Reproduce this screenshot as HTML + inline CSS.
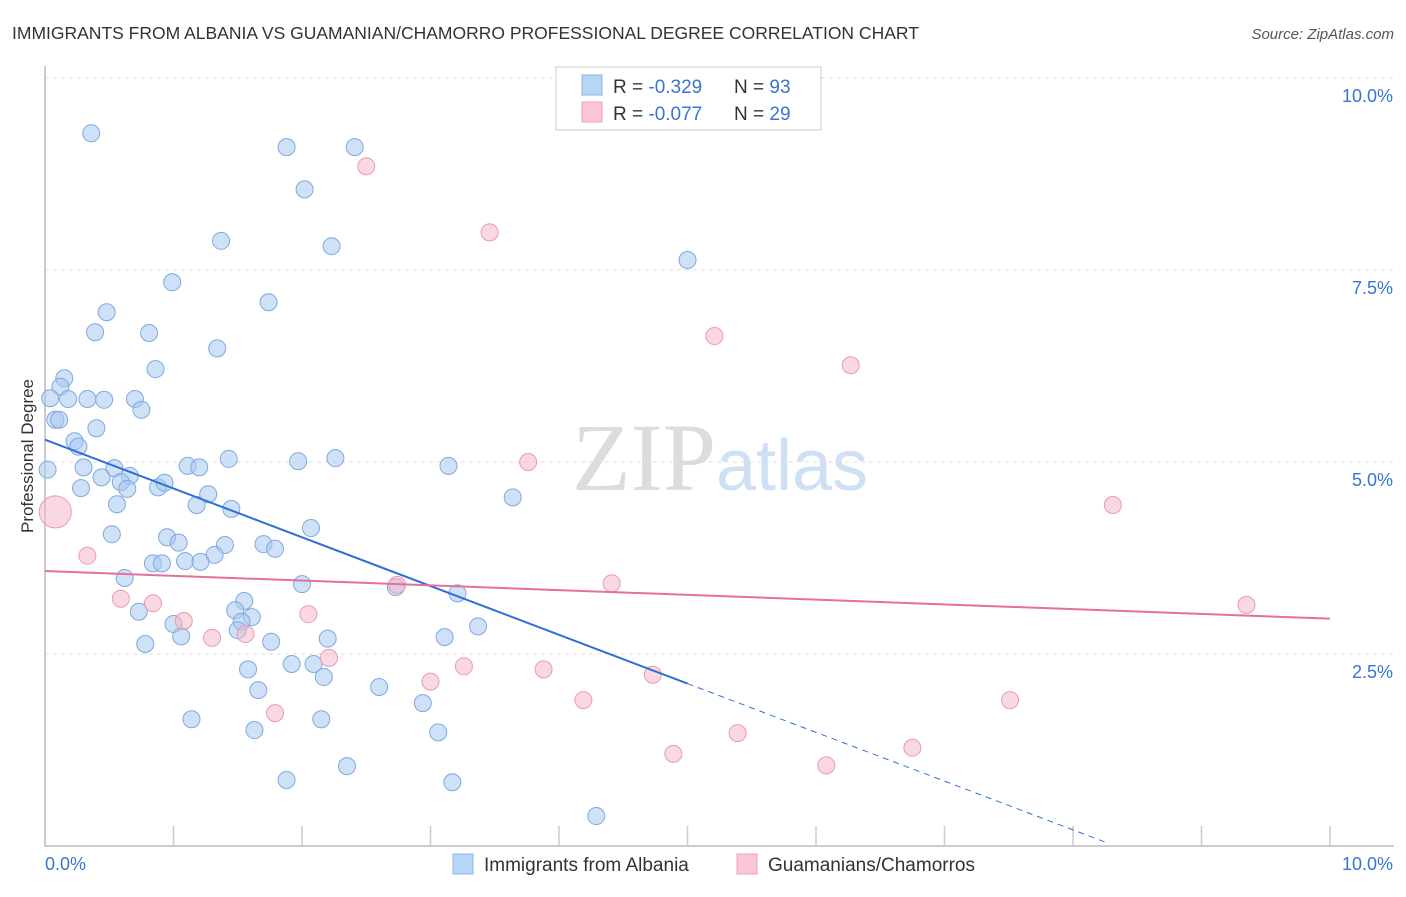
<!DOCTYPE html>
<html><head><meta charset="utf-8"><style>
body{margin:0;background:#fff;font-family:"Liberation Sans",sans-serif}
svg text{font-family:"Liberation Sans",sans-serif}
</style></head><body>
<svg id="chart" width="1406" height="892" xmlns="http://www.w3.org/2000/svg">
<text x="12" y="39" font-size="17.5" fill="#333">IMMIGRANTS FROM ALBANIA VS GUAMANIAN/CHAMORRO PROFESSIONAL DEGREE CORRELATION CHART</text>
<text x="1394" y="39" font-size="15" fill="#555" font-style="italic" text-anchor="end">Source: ZipAtlas.com</text>
<text x="720" y="490" font-size="96" text-anchor="middle"><tspan fill="#dcdcdc" font-family="Liberation Serif">ZIP</tspan><tspan fill="#cfe0f5" font-size="72">atlas</tspan></text>
<g id="grid"></g>
<g id="axes"></g>
<g id="pts"></g>
<g id="trends"></g>
<text transform="translate(33,456) rotate(-90)" font-size="17" fill="#333" text-anchor="middle">Professional Degree</text>
<g>
<rect x="556" y="67" width="265" height="63" fill="#fff" stroke="#ccc"/>
<rect x="582" y="75" width="20" height="20" fill="#b8d4f6" stroke="#8fb5e8"/>
<rect x="582" y="102" width="20" height="20" fill="#f9c7d6" stroke="#eea2bb"/>
<text x="613" y="93" font-size="19" fill="#333">R = <tspan fill="#3b74d0">-0.329</tspan><tspan x="734">N = </tspan><tspan fill="#3b74d0">93</tspan></text>
<text x="613" y="120" font-size="19" fill="#333">R = <tspan fill="#3b74d0">-0.077</tspan><tspan x="734">N = </tspan><tspan fill="#3b74d0">29</tspan></text>
</g>
<g>
<rect x="453" y="854" width="20" height="20" fill="#b8d4f6" stroke="#8fb5e8"/>
<text x="484" y="871" font-size="19" fill="#333">Immigrants from Albania</text>
<rect x="737" y="854" width="20" height="20" fill="#f9c7d6" stroke="#eea2bb"/>
<text x="768" y="871" font-size="19" fill="#333">Guamanians/Chamorros</text>
</g>
</svg>
<script>
const yTicks=[2.5,5.0,7.5,10.0];
const yTickLabels=["2.5%","5.0%","7.5%","10.0%"];
const xEndLabels=["0.0%","10.0%"];
const blueX=[.36,1.88,2.41,2.02,1.37,2.23,5.00,.99,1.74,.48,.39,.81,1.34,.86,.15,.12,.04,.18,.33,.46,.70,.75,.08,.11,.40,.23,.26,.02,.30,.54,1.11,1.20,1.43,1.97,2.26,3.14,.66,.44,.59,.64,.28,.88,.93,1.27,1.18,.56,1.45,3.64,.52,2.07,.95,1.04,1.40,1.70,1.79,1.32,.84,.91,1.09,1.21,.62,2.00,2.73,3.21,1.55,.73,1.48,1.61,1.53,1.00,1.50,1.06,3.37,3.11,1.76,2.20,.78,1.92,2.09,1.58,2.17,1.66,2.60,2.94,1.14,2.15,1.63,3.06,2.35,1.88,3.17,4.29];
const blueY=[9.28,9.10,9.10,8.55,7.88,7.81,7.63,7.34,7.08,6.95,6.69,6.68,6.48,6.21,6.09,5.98,5.83,5.82,5.82,5.81,5.82,5.68,5.55,5.55,5.44,5.27,5.20,4.90,4.93,4.92,4.95,4.93,5.04,5.01,5.05,4.95,4.82,4.80,4.74,4.65,4.66,4.67,4.73,4.58,4.44,4.45,4.39,4.54,4.06,4.14,4.02,3.95,3.92,3.93,3.87,3.79,3.68,3.68,3.71,3.70,3.49,3.41,3.37,3.29,3.19,3.05,3.07,2.98,2.92,2.89,2.81,2.73,2.86,2.72,2.66,2.70,2.63,2.37,2.37,2.30,2.20,2.03,2.07,1.86,1.65,1.65,1.51,1.48,1.04,.86,.83,.39];
const pinkX=[.08,.33,.59,.84,1.08,1.30,1.56,1.79,2.05,2.21,2.50,3.46,2.74,3.00,3.26,3.76,3.88,4.19,4.41,4.73,4.89,5.21,5.39,6.08,6.27,6.75,7.51,8.31,9.35];
const pinkY=[4.35,3.78,3.22,3.16,2.93,2.71,2.76,1.73,3.02,2.45,8.85,7.99,3.40,2.14,2.34,5.00,2.30,1.90,3.42,2.23,1.20,6.64,1.47,1.05,6.26,1.28,1.90,4.44,3.14];
const blueTrend=[5.29,-0.635]; // intercept, slope
const blueSolidEnd=5.0, blueDashEnd=8.26;
const pinkTrend=[3.58,-0.062];

const X0=45,X1=1330,Y0=846,Y1=78;
const sx=v=>X0+(X1-X0)*v/10, sy=v=>Y0-(Y0-Y1)*v/10;
const NS="http://www.w3.org/2000/svg";
function mk(parent,tag,attrs){const e=document.createElementNS(NS,tag);for(const k in attrs)e.setAttribute(k,attrs[k]);document.getElementById(parent).appendChild(e);return e;}

yTicks.forEach((t,i)=>{
 const l=mk('grid','line',{x1:X0,x2:1394,y1:sy(t),y2:sy(t),stroke:'#ddd','stroke-dasharray':'4,4'});
 
 
 const tx=mk('grid','text',{x:1393,y:sy(t)+24,'font-size':18,fill:'#3b74d0','text-anchor':'end'});
 tx.textContent=yTickLabels[i];
 
 
});
const ax=mk('axes','path',{d:`M${X0},66V${Y0}H1394`,stroke:'#bbb',fill:'none','stroke-width':1.5});


for(let i=1;i<=10;i++){
 const t=mk('axes','line',{x1:sx(i),x2:sx(i),y1:826,y2:Y0,stroke:'#ccc','stroke-width':1.5});
 
 
}
[[0,'start',45],[10,'end',1393]].forEach((p,i)=>{
 const t=mk('axes','text',{x:p[2],y:870,'font-size':18,fill:'#3b74d0','text-anchor':p[1]});
 t.textContent=xEndLabels[i];
 
 
});
blueX.forEach((v,i)=>{
 const c=mk('pts','circle',{cx:sx(v),cy:sy(blueY[i]),r:8.5,fill:'rgba(168,200,240,0.55)',stroke:'#7fa9e0','stroke-width':1});
 
 
});
pinkX.forEach((v,i)=>{
 const c=mk('pts','circle',{cx:sx(v),cy:sy(pinkY[i]),r:i===0?16:8.5,fill:'rgba(246,184,203,0.55)',stroke:'#e99ab4','stroke-width':1});
 
 
});
const bl=mk('trends','line',{x1:sx(0),y1:sy(blueTrend[0]),x2:sx(blueSolidEnd),y2:sy(blueTrend[0]+blueTrend[1]*blueSolidEnd),stroke:'#2f6fd6','stroke-width':2});


const bd=mk('trends','line',{x1:sx(blueSolidEnd),y1:sy(blueTrend[0]+blueTrend[1]*blueSolidEnd),x2:sx(blueDashEnd),y2:sy(blueTrend[0]+blueTrend[1]*blueDashEnd),stroke:'#2f6fd6','stroke-width':1,'stroke-dasharray':'6,5'});


const pl=mk('trends','line',{x1:sx(0),y1:sy(pinkTrend[0]),x2:sx(10),y2:sy(pinkTrend[0]+pinkTrend[1]*10),stroke:'#e5709a','stroke-width':2});


</script>
</body></html>
